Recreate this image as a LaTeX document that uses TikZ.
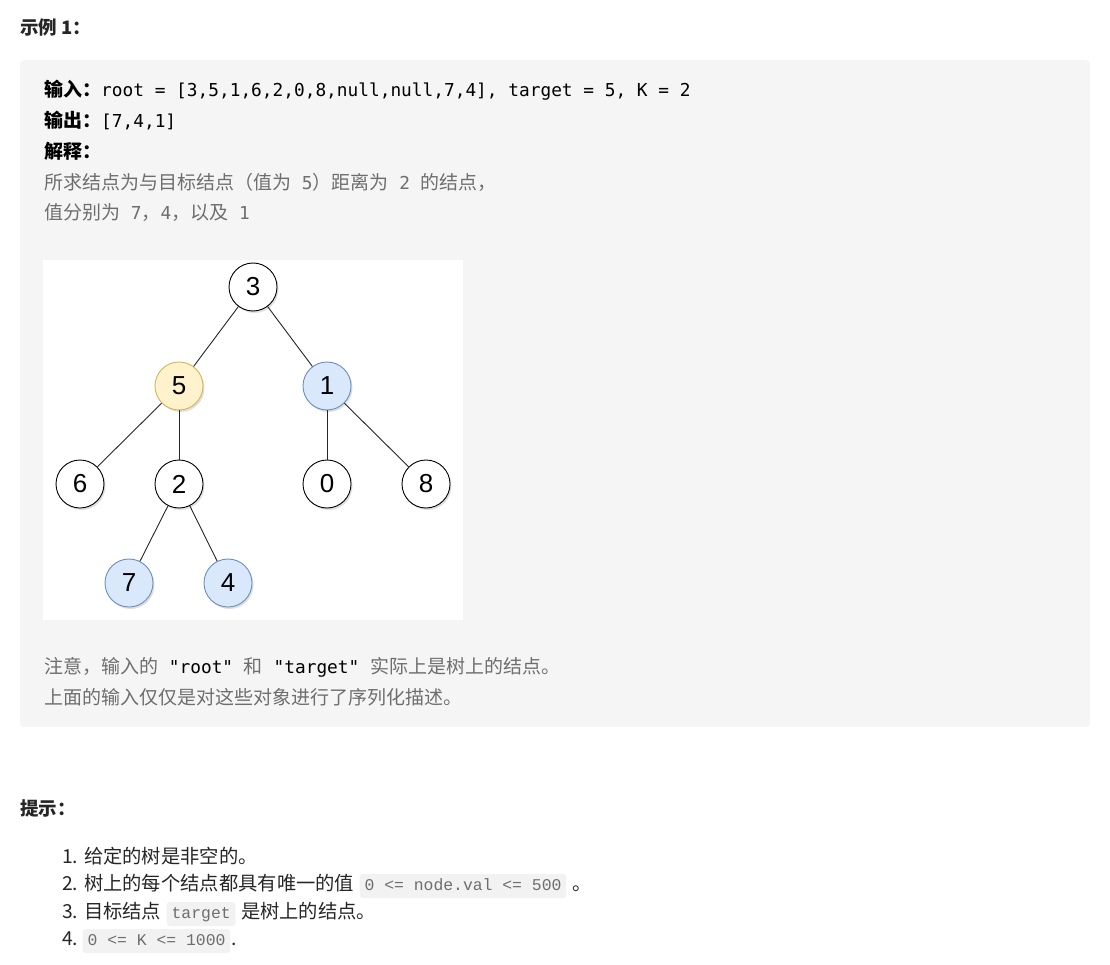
\documentclass[tikz,border=0pt]{standalone}
\usepackage{fontspec}
\setmainfont{Noto Sans CJK SC}
\setmonofont{DejaVu Sans Mono}
\newfontfamily\codefont{Liberation Mono}
\newfontfamily\digitfont{Liberation Sans}
\usetikzlibrary{positioning,shadows}
\definecolor{panelgray}{HTML}{F5F5F5}
\definecolor{codegray}{HTML}{F2F2F2}
\definecolor{textgray}{HTML}{6E6E6E}
\definecolor{inkdark}{HTML}{262626}
\definecolor{hiyellow}{HTML}{FFF2CC}
\definecolor{hiyellowline}{HTML}{D6B656}
\definecolor{hiblue}{HTML}{DAE8FC}
\definecolor{hiblueline}{HTML}{6C8EBF}
\newcommand{\boxfont}{\fontsize{19}{22}\selectfont}
\newcommand{\hintfont}{\fontsize{19.3}{22}\selectfont}
\newcommand{\monotext}[1]{{\fontsize{17.8}{22}\selectfont\ttfamily #1}}

\begin{document}
\begin{tikzpicture}[x=1pt, y=-1pt,
  heading/.style={anchor=base west, inner sep=0pt, text=inkdark, font=\fontsize{18.5}{22}\selectfont\bfseries},
  boxline/.style={anchor=base west, inner sep=0pt, font=\boxfont},
  hintline/.style={inner sep=0pt, text=inkdark, font=\hintfont},
  codebox/.style={fill=codegray, rounded corners=3pt, inner xsep=5pt, inner ysep=5pt,
    text height=11pt, text depth=3pt, text=textgray, font=\codefont\fontsize{16.4}{18}\selectfont},
  treenode/.style={circle, draw, line width=0.9pt, minimum size=48pt, inner sep=0pt,
    font=\digitfont\fontsize{26}{26}\selectfont,
    drop shadow={shadow xshift=1.5pt, shadow yshift=-2pt, opacity=0.25}},
  treeedge/.style={draw=inkdark, line width=0.9pt}]
  \useasboundingbox (0,0) rectangle (1110,965);

  % Example heading
  \node[heading] (title) at (20,35) {示例 1：};

  % Grey panel and white picture area
  \fill[panelgray, rounded corners=4pt] (20,60) rectangle (1090,727);
  \fill[white] (43,260) rectangle (463,620);

  % Input, output and explanation
  \node[boxline, text=black] (input) at (44,97)
    {{\bfseries 输入：}\monotext{root = [3,5,1,6,2,0,8,null,null,7,4], target = 5, K = 2}};
  \node[boxline, text=black] (output) at (44,128) {{\bfseries 输出：}\monotext{[7,4,1]}};
  \node[boxline, text=black] (explain) at (44,159) {\bfseries 解释：};
  \node[boxline, text=textgray] (why) at (44,190)
    {所求结点为与目标结点（值为\monotext{ 5}）距离为\monotext{ 2 }的结点，};
  \node[boxline, text=textgray] (vals) at (44,220)
    {值分别为\monotext{ 7}，\monotext{4}，以及\monotext{ 1}};

  % Tree
  \foreach \v/\x/\y/\fc/\dc in {3/253/287/white/black, 5/179/386/hiyellow/hiyellowline,
      1/327/386/hiblue/hiblueline, 6/80/484/white/black, 2/179/484/white/black,
      0/327/484/white/black, 8/426/484/white/black, 7/129/583/hiblue/hiblueline,
      4/228/583/hiblue/hiblueline} {
    \node[treenode, fill=\fc, draw=\dc] (n\v) at (\x,\y) {\v};
  }
  \foreach \a/\b in {3/5, 3/1, 5/6, 5/2, 1/0, 1/8, 2/7, 2/4} {
    \draw[treeedge] (n\a) -- (n\b);
  }

  % Note below the picture
  \node[boxline, text=textgray] (note) at (44,673)
    {注意，输入的{\color{black}\monotext{ "root" }}和{\color{black}\monotext{ "target" }}实际上是树上的结点。};
  \node[boxline, text=textgray] (note2) at (44,704) {上面的输入仅仅是对这些对象进行了序列化描述。};

  % Hints
  \node[heading] (hints) at (20,815) {提示：};
  \node[hintline, anchor=base west] (h1) at (62,863) {1. 给定的树是非空的。};
  \node[hintline, anchor=base west] (h2) at (62,890) {2. 树上的每个结点都具有唯一的值};
  \node[codebox, base right=5pt of h2] (h2c) {0 <= node.val <= 500};
  \node[hintline, base right=6pt of h2c] (h2e) {。};
  \node[hintline, anchor=base west] (h3) at (62,918) {3. 目标结点};
  \node[codebox, base right=5pt of h3] (h3c) {target};
  \node[hintline, base right=5pt of h3c] (h3e) {是树上的结点。};
  \node[hintline, anchor=base west] (h4) at (62,945) {4.};
  \node[codebox, base right=4pt of h4] (h4c) {0 <= K <= 1000};
  \node[hintline, base right=1pt of h4c] (h4e) {.};
\end{tikzpicture}
\end{document}
